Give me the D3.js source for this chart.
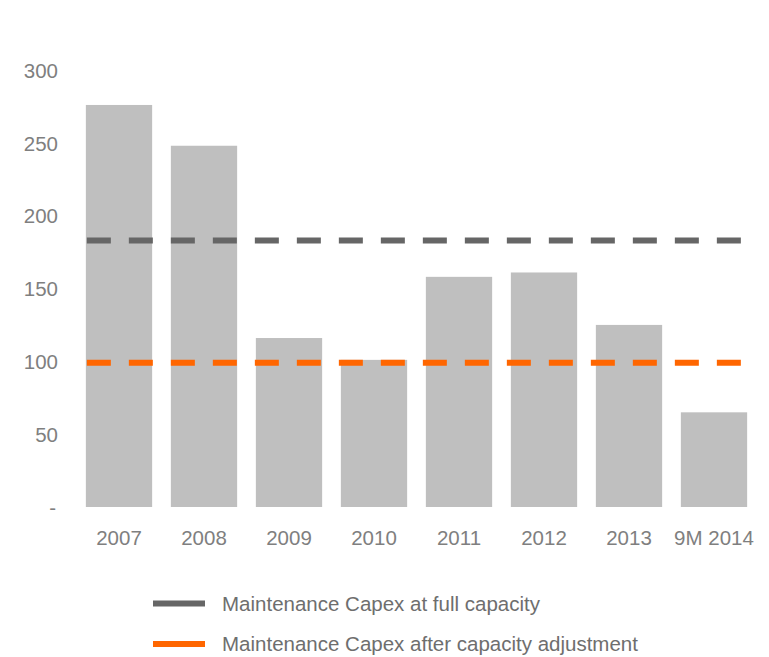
<!DOCTYPE html>
<html>
<head>
<meta charset="utf-8">
<script src="https://cdn.jsdelivr.net/npm/d3@7"></script>
<style>
  html, body { margin: 0; padding: 0; background: #fff; }
  svg { display: block; font-family: "Liberation Sans", Arial, sans-serif; }
</style>
</head>
<body>
<svg id="chart" width="769" height="657"></svg>
<script>
// Maintenance capex by year, with two reference levels
const categories = ["2007", "2008", "2009", "2010", "2011", "2012", "2013", "9M 2014"];
const capexValues = [276, 248, 116, 101, 158, 161, 125, 65];
const fullCapacityLevel = [183, 183, 183, 183, 183, 183, 183, 183];
const adjustedCapacityLevel = [99, 99, 99, 99, 99, 99, 99, 99];
const yTicks = [0, 50, 100, 150, 200, 250, 300];
const legendLabels = ["Maintenance Capex at full capacity", "Maintenance Capex after capacity adjustment"];

const colors = { bar: "#bfbfbf", full: "#666666", adjusted: "#ff6600", text: "#7f7f7f" };

const svg = d3.select("#chart");

const x = d3.scaleBand()
  .domain(categories)
  .range([76.5, 756.5])
  .paddingInner(0.22)
  .paddingOuter(0.11);

const y = d3.scaleLinear().domain([0, 300]).range([507, 70]);

// Bars
svg.append("g")
  .selectAll("rect")
  .data(categories.map((c, i) => ({ c, v: capexValues[i] })))
  .join("rect")
  .attr("x", d => x(d.c))
  .attr("width", x.bandwidth())
  .attr("y", d => y(d.v))
  .attr("height", d => y(0) - y(d.v))
  .attr("fill", colors.bar);

// Y axis (no domain line or tick marks)
const yAxis = d3.axisLeft(y)
  .tickValues(yTicks)
  .tickSize(0)
  .tickPadding(0)
  .tickFormat(d => d === 0 ? "-" : d3.format("d")(d));

const yG = svg.append("g").attr("transform", "translate(58,0)").call(yAxis);
yG.select(".domain").remove();
yG.selectAll("text")
  .attr("fill", colors.text)
  .style("font-size", "20.5px")
  .style("font-family", "'Liberation Sans', Arial, sans-serif")
  .attr("dy", "0.35em")
  .attr("x", d => d === 0 ? -2 : 0);

// X axis labels
const xAxis = d3.axisBottom(x).tickSize(0).tickPadding(0);
const xG = svg.append("g").attr("transform", "translate(0,538)").call(xAxis);
xG.select(".domain").remove();
xG.selectAll("text")
  .attr("fill", colors.text)
  .attr("dy", "0.35em")
  .style("font-size", "20.5px")
  .style("font-family", "'Liberation Sans', Arial, sans-serif");

// Dashed reference lines spanning the category bands
function refLine(values, color) {
  const pts = [values[0], values[values.length - 1]];
  const lineGen = d3.line()
    .x((d, i) => i === 0 ? x(categories[0]) + 1 : x(categories[categories.length - 1]) + x.bandwidth())
    .y(d => y(d));
  svg.append("path")
    .datum(pts)
    .attr("d", lineGen)
    .attr("fill", "none")
    .attr("stroke", color)
    .attr("stroke-width", 6)
    .attr("stroke-dasharray", "24,18");
}
refLine(fullCapacityLevel, colors.full);
refLine(adjustedCapacityLevel, colors.adjusted);

// Legend
const legend = svg.append("g");
const legendItems = [
  { label: legendLabels[0], color: colors.full, y: 603.5 },
  { label: legendLabels[1], color: colors.adjusted, y: 644 }
];
legendItems.forEach(item => {
  legend.append("line")
    .attr("x1", 153).attr("x2", 205)
    .attr("y1", item.y).attr("y2", item.y)
    .attr("stroke", item.color)
    .attr("stroke-width", 6);
  legend.append("text")
    .attr("x", 222)
    .attr("y", item.y)
    .attr("dy", "0.35em")
    .attr("fill", "#6e6e6e")
    .style("font-size", "20.5px")
    .text(item.label);
});
</script>
</body>
</html>
